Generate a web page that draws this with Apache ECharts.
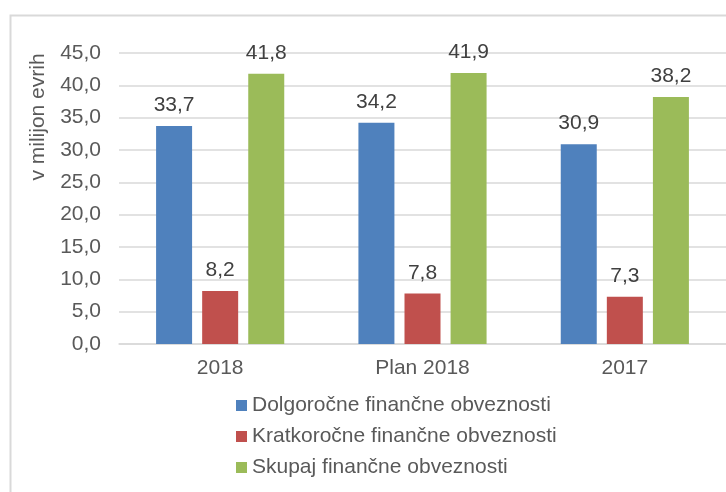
<!DOCTYPE html>
<html>
<head>
<meta charset="utf-8">
<script src="https://cdn.jsdelivr.net/npm/echarts@6/dist/echarts.min.js"></script>
<style>
  html, body { margin: 0; padding: 0; background: #fff; }
  #chart { width: 726px; height: 492px; }
</style>
</head>
<body>
<div id="chart"></div>
<script>
  var categories = ['2018', 'Plan 2018', '2017'];
  var seriesNames = ['Dolgoročne finančne obveznosti', 'Kratkoročne finančne obveznosti', 'Skupaj finančne obveznosti'];
  var dolgorocne = [33.7, 34.2, 30.9];
  var kratkorocne = [8.2, 7.8, 7.3];
  var skupaj = [41.8, 41.9, 38.2];
  var colors = ['#4f81bd', '#c0504d', '#9bbb59'];
  var font = '"Liberation Sans", Arial, sans-serif';

  function fmt(v) {
    return Number(v).toFixed(1).replace('.', ',');
  }

  function makeSeries(name, data, i) {
    return {
      name: name,
      type: 'bar',
      data: data,
      barWidth: 36,
      barGap: '28%',
      itemStyle: { color: colors[i] },
      label: {
        show: true,
        position: 'top',
        distance: 10,
        formatter: function(p) { return fmt(p.value); },
        color: '#404040',
        fontFamily: font,
        fontSize: 21
      }
    };
  }

  var chart = echarts.init(document.getElementById('chart'));
  chart.setOption({
    animation: false,
    backgroundColor: '#fff',
    grid: { left: 119, top: 53, width: 619, height: 291 },
    legend: {
      orient: 'vertical',
      left: 231,
      top: 390,
      itemWidth: 11,
      itemHeight: 11,
      itemGap: 10,
      icon: 'rect',
      data: seriesNames,
      textStyle: { color: '#595959', fontFamily: font, fontSize: 21 }
    },
    xAxis: {
      type: 'category',
      data: categories,
      axisTick: { show: false },
      axisLine: { lineStyle: { color: '#d9d9d9', width: 1.5 } },
      axisLabel: { color: '#595959', fontFamily: font, fontSize: 21, margin: 14 }
    },
    yAxis: {
      type: 'value',
      min: 0,
      max: 45,
      interval: 5,
      axisLine: { show: false },
      axisTick: { show: false },
      splitLine: { lineStyle: { color: '#d9d9d9', width: 1.5 } },
      axisLabel: {
        color: '#595959',
        fontFamily: font,
        fontSize: 21,
        margin: 18,
        formatter: function(v) { return fmt(v); }
      }
    },
    graphic: [
      {
        type: 'rect',
        left: 8,
        top: 13,
        shape: { width: 800, height: 600 },
        style: { fill: 'none', stroke: '#d9d9d9', lineWidth: 2 },
        silent: true
      },
      {
        type: 'text',
        x: 38,
        y: 117,
        rotation: Math.PI / 2,
        style: {
          text: 'v milijon evrih',
          fill: '#595959',
          font: '21px "Liberation Sans", Arial, sans-serif',
          align: 'center',
          verticalAlign: 'middle'
        }
      }
    ],
    series: [
      makeSeries(seriesNames[0], dolgorocne, 0),
      makeSeries(seriesNames[1], kratkorocne, 1),
      makeSeries(seriesNames[2], skupaj, 2)
    ]
  });
</script>
</body>
</html>
